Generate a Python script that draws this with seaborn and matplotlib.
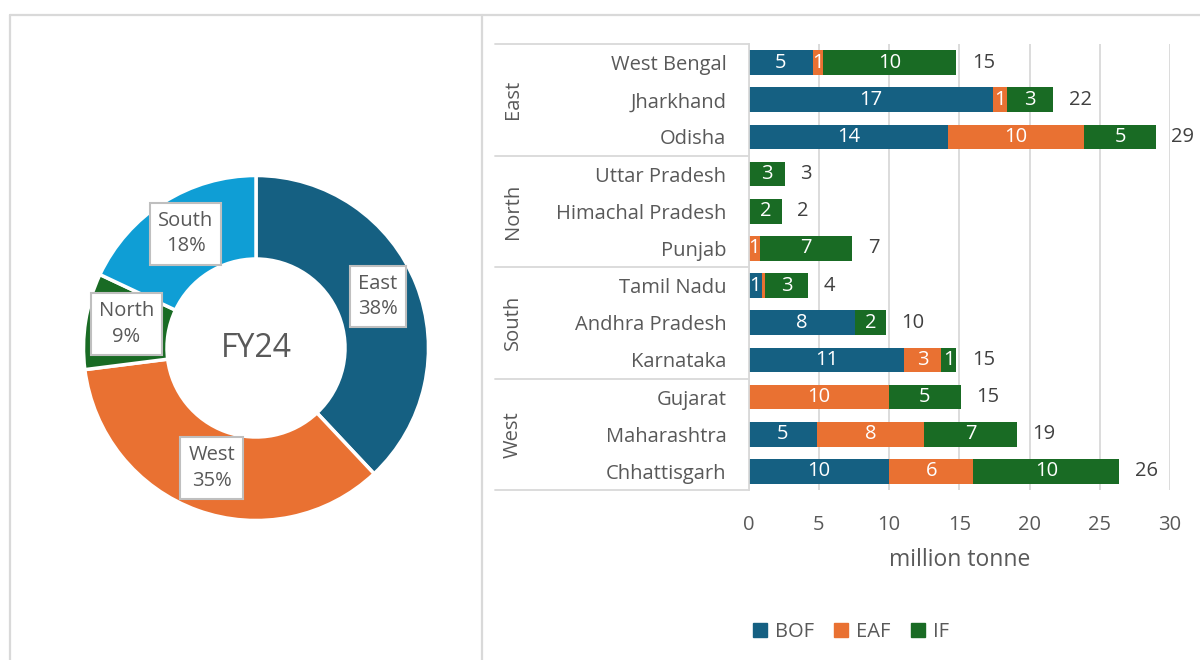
import numpy as np
import pandas as pd
import matplotlib.pyplot as plt
import matplotlib.transforms as mtrans
import seaborn as sns
from matplotlib.patches import Patch
from matplotlib.lines import Line2D

# ---- data ----
states = ["West Bengal", "Jharkhand", "Odisha",
          "Uttar Pradesh", "Himachal Pradesh", "Punjab",
          "Tamil Nadu", "Andhra Pradesh", "Karnataka",
          "Gujarat", "Maharashtra", "Chhattisgarh"]
state_region = ["East"] * 3 + ["North"] * 3 + ["South"] * 3 + ["West"] * 3
bof = [4.6, 17.4, 14.2, 0, 0, 0, 0.95, 7.6, 11.1, 0, 4.9, 10.0]
eaf = [0.7, 1.0, 9.7, 0, 0, 0.8, 0.2, 0, 2.6, 10.0, 7.6, 6.0]
if_ = [9.5, 3.3, 5.1, 2.6, 2.4, 6.6, 3.1, 2.2, 1.1, 5.1, 6.6, 10.4]

regions = ["East", "West", "North", "South"]
region_share = [38, 35, 9, 18]
center_label = "FY24"

C_BOF, C_EAF, C_IF, C_SOUTH = "#156082", "#E97132", "#196B24", "#0F9ED5"
GRID = "#D9D9D9"
TXT = "#595959"
FS = 14.5

sns.set_theme(style="white")
plt.rcParams["font.family"] = ["Open Sans", "DejaVu Sans"]

fig = plt.figure(figsize=(12, 6.6), dpi=100)

# ---- frames ----
top = 1 - 15 / 660
for xs, ys in [([10 / 1200, 1], [top] * 2),
               ([10 / 1200] * 2, [0, top]),
               ([482 / 1200] * 2, [0, top])]:
    fig.add_artist(Line2D(xs, ys, color=GRID, lw=1.6))

# ---- donut ----
axp = fig.add_axes([83.5 / 1200, 1 - 520.5 / 660, 345 / 1200, 345 / 660])
wedges, _ = axp.pie(region_share, colors=[C_BOF, C_EAF, C_IF, C_SOUTH],
                    startangle=90, counterclock=False, radius=1,
                    wedgeprops=dict(width=0.484, edgecolor="white", linewidth=2.5))
for w, name, s in zip(wedges, regions, region_share):
    mid = np.deg2rad((w.theta1 + w.theta2) / 2)
    axp.text(0.76 * np.cos(mid), 0.76 * np.sin(mid) + 0.02, f"{name}\n{s}%",
             ha="center", va="center", fontsize=FS, color=TXT, linespacing=1.35,
             bbox=dict(boxstyle="square,pad=0.4", fc="white", ec="#BFBFBF", lw=1.5))
axp.text(0, 0, center_label, ha="center", va="center", fontsize=23, color=TXT)
axp.set_xlim(-1, 1)
axp.set_ylim(-1, 1)

# ---- stacked bars ----
df = pd.DataFrame({"state": states, "BOF": bof, "EAF": eaf, "IF": if_})
df["c1"] = df["BOF"]
df["c2"] = df["BOF"] + df["EAF"]
df["c3"] = df["c2"] + df["IF"]

ax = fig.add_axes([748.5 / 1200, 1 - 490 / 660, 421.5 / 1200, 446 / 660])
for col, c in [("c3", C_IF), ("c2", C_EAF), ("c1", C_BOF)]:
    sns.barplot(data=df, x=col, y="state", order=states, color=c, saturation=1,
                width=0.66, linewidth=0, ax=ax)

for i, row in df.iterrows():
    left = 0
    for col in ["BOF", "EAF", "IF"]:
        v = row[col]
        if v >= 0.5:
            ax.text(left + v / 2, i, f"{v:.0f}", ha="center", va="center",
                    color="white", fontsize=FS)
        left += v
    ax.annotate(f"{row['c3']:.0f}", (row["c3"], i), xytext=(11, 0),
                textcoords="offset points", ha="left", va="center",
                color="#404040", fontsize=FS)

ax.set_xlim(0, 30)
ax.set_ylim(11.5, -0.5)
ax.set_xticks(range(0, 31, 5))
ax.xaxis.grid(True, color=GRID, lw=1.3)
ax.set_axisbelow(True)
for sp in ["top", "right", "bottom"]:
    ax.spines[sp].set_visible(False)
ax.spines["left"].set_color(GRID)
ax.spines["left"].set_linewidth(1.3)
ax.tick_params(axis="y", length=0, pad=16, labelsize=FS, labelcolor=TXT)
ax.tick_params(axis="x", length=0, pad=18, labelsize=FS, labelcolor=TXT)
ax.set_ylabel("")
ax.set_xlabel("million tonne", fontsize=16.5, color=TXT, labelpad=9)

# region grouping
trans = mtrans.blended_transform_factory(ax.transAxes, ax.transData)
for b in [-0.5, 2.5, 5.5, 8.5, 11.5]:
    ax.plot([-0.601, 0], [b, b], transform=trans, color=GRID, lw=1.3, clip_on=False)
for r in ["East", "North", "South", "West"]:
    idx = [i for i, s in enumerate(state_region) if s == r]
    ax.text(-0.559, np.mean(idx), r, transform=trans, rotation=90,
            ha="center", va="center", fontsize=FS, color=TXT)

handles = [Patch(color=C_BOF, label="BOF"), Patch(color=C_EAF, label="EAF"),
           Patch(color=C_IF, label="IF")]
fig.legend(handles=handles, loc="center", bbox_to_anchor=(851 / 1200, 1 - 632 / 660),
           ncol=3, frameon=False, fontsize=FS, handlelength=0.7, handleheight=0.7,
           columnspacing=1.0, handletextpad=0.4, labelcolor=TXT)

fig.savefig("out.png", dpi=100)
